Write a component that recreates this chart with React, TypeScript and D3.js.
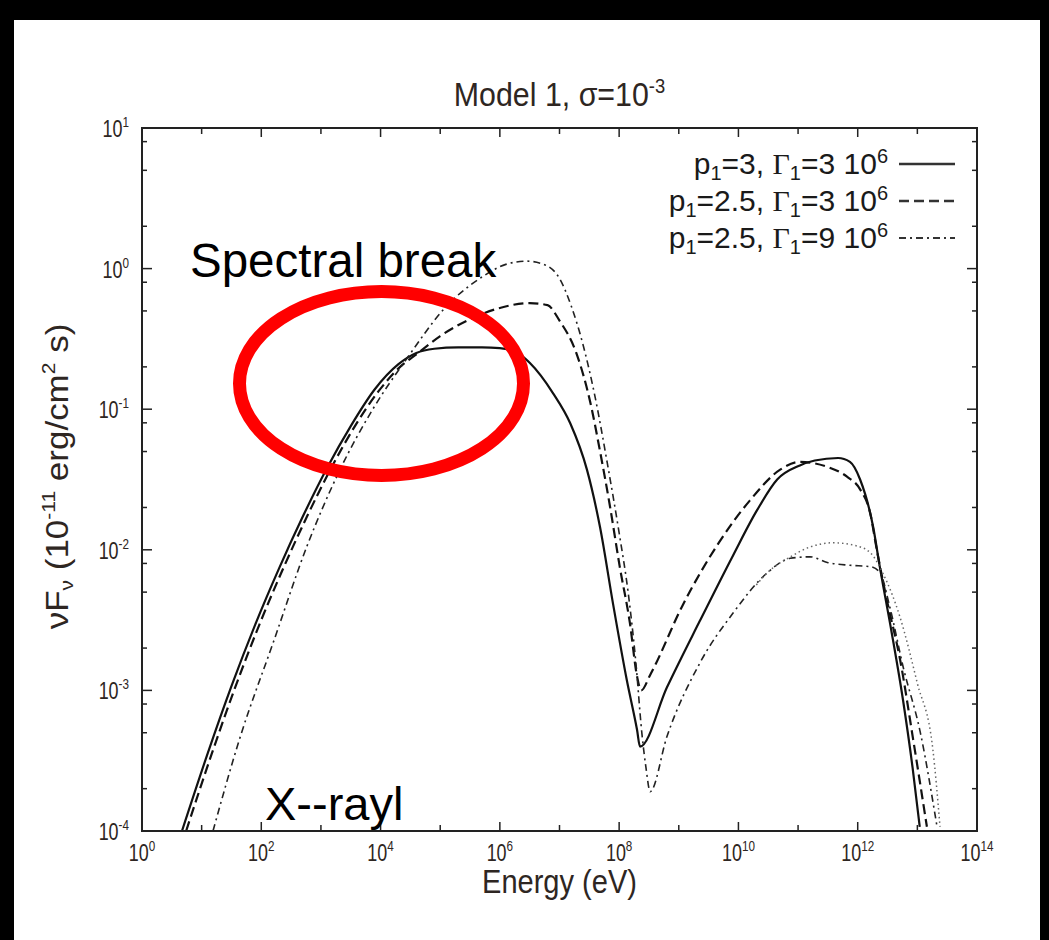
import React from 'react';
import * as d3 from 'd3';

const W = 1049;
const H = 940;
const plot = { left: 142, top: 128, right: 977, bottom: 831 };

// Spectra as [log10(E / eV), log10(νFν / 1e-11 erg cm^-2 s^-1)]
const solidSpectrum: [number, number][] = [
  [0.67, -4.0], [1.1, -3.45], [1.5, -2.97], [1.9, -2.53], [2.3, -2.13], [2.7, -1.76],
  [3.1, -1.42], [3.5, -1.12], [3.9, -0.86], [4.3, -0.68], [4.6, -0.6], [4.9, -0.57],
  [5.3, -0.56], [5.7, -0.56], [6.0, -0.565], [6.3, -0.6], [6.5, -0.67],
  [6.89, -0.885], [7.18, -1.1], [7.46, -1.43], [7.68, -1.84], [7.9, -2.39], [8.13, -2.93],
  [8.3, -3.28], [8.35, -3.4], [8.8, -2.98], [9.36, -2.5], [9.91, -2.04], [10.31, -1.72],
  [10.65, -1.5], [11.03, -1.4], [11.28, -1.365], [11.67, -1.347], [11.87, -1.375],
  [12.04, -1.5], [12.26, -1.84], [12.37, -2.12], [12.57, -2.59], [12.76, -3.07],
  [12.92, -3.55], [13.04, -3.97],
];

const dashedSpectrum: [number, number][] = [
  [0.74, -4.0], [1.17, -3.45], [1.57, -2.97], [1.97, -2.53], [2.37, -2.13], [2.77, -1.76],
  [3.17, -1.42], [3.57, -1.12], [3.97, -0.87], [4.35, -0.69], [4.6, -0.61],
  [5.0, -0.48], [5.5, -0.36], [6.0, -0.28], [6.5, -0.245], [6.8, -0.26], [7.0, -0.37],
  [7.29, -0.61], [7.51, -0.94], [7.68, -1.3], [7.85, -1.7], [8.01, -2.12], [8.18, -2.52],
  [8.3, -2.9], [8.37, -3.0], [8.52, -2.89], [9.07, -2.39], [9.64, -1.97], [10.19, -1.65],
  [10.7, -1.43], [11.03, -1.375], [11.49, -1.41], [11.82, -1.48], [12.04, -1.57],
  [12.21, -1.74], [12.32, -2.0], [12.49, -2.36], [12.71, -2.78], [12.93, -3.35], [13.16, -3.97],
];

const dashDotSpectrum: [number, number][] = [
  [1.19, -4.0], [1.64, -3.34], [2.2, -2.66], [2.77, -1.97], [3.32, -1.43],
  [3.87, -1.0], [4.44, -0.64], [5.1, -0.27], [5.7, -0.06], [6.1, 0.03],
  [6.45, 0.053], [6.76, 0.026], [7.0, -0.07], [7.2, -0.27], [7.4, -0.55], [7.6, -0.92],
  [7.8, -1.38], [8.0, -1.88], [8.15, -2.3], [8.28, -2.8], [8.38, -3.3], [8.45, -3.55],
  [8.52, -3.72], [8.8, -3.33], [9.36, -2.8], [9.91, -2.45], [10.48, -2.165], [10.87, -2.06],
  [11.2, -2.05], [11.49, -2.09], [11.87, -2.11], [12.21, -2.12], [12.37, -2.16],
  [12.54, -2.41], [12.76, -2.83], [13.05, -3.3], [13.33, -3.97],
];

const dottedSpectrum: [number, number][] = [
  [10.3, -2.25], [10.48, -2.165], [10.87, -2.05], [11.2, -1.98], [11.59, -1.95], [11.96, -1.97],
  [12.21, -2.02], [12.42, -2.165], [12.71, -2.48], [13.0, -2.95], [13.26, -3.42], [13.38, -3.97],
];

const xTickExponents = d3.range(0, 15);
const yTickExponents = d3.range(-4, 2);
const yMinorMantissas = [2, 5, 8];

const legendP = ['3', '2.5', '2.5'];
const legendGamma = ['3', '3', '9'];
const legendDash = ['none', '10,5', '7,4,2,4'];

const textColor = '#2e2622';
const font = '"Liberation Sans", Arial, sans-serif';

export default function App() {
  const x = d3.scaleLog().domain([1, 1e14]).range([plot.left, plot.right]);
  const y = d3.scaleLog().domain([1e-4, 10]).range([plot.bottom, plot.top]);

  const line = d3
    .line<[number, number]>()
    .x((d) => x(Math.pow(10, d[0])))
    .y((d) => y(Math.pow(10, d[1])))
    .curve(d3.curveMonotoneX);

  const minorY: number[] = [];
  yTickExponents.slice(0, -1).forEach((e) => {
    yMinorMantissas.forEach((m) => minorY.push(m * Math.pow(10, e)));
  });

  const series = [
    { data: solidSpectrum, dash: 'none', width: 2.2, color: '#111' },
    { data: dashedSpectrum, dash: '10,5', width: 2.2, color: '#111' },
    { data: dashDotSpectrum, dash: '7,4,2,4', width: 1.6, color: '#222' },
    { data: dottedSpectrum, dash: '1.5,3', width: 1.5, color: '#666' },
  ];

  return (
    <svg
      width={W}
      height={H}
      style={{ position: 'absolute', left: 0, top: 0, background: '#fff' }}
      fontFamily={font}
    >
      <rect x={0} y={0} width={W} height={H} fill="#fff" />

      {/* Title */}
      <g transform={`translate(${(plot.left + plot.right) / 2},106) scale(0.92,1)`}>
        <text textAnchor="middle" fontSize={33} fill={textColor}>
          Model 1, σ=10<tspan fontSize={20} dy={-13}>-3</tspan>
        </text>
      </g>

      <defs>
        <clipPath id="plotClip">
          <rect x={plot.left} y={plot.top} width={plot.right - plot.left} height={plot.bottom - plot.top} />
        </clipPath>
      </defs>

      {/* Curves */}
      <g clipPath="url(#plotClip)" fill="none">
        {series.map((s, i) => (
          <path
            key={i}
            d={line(s.data) || ''}
            stroke={s.color}
            strokeWidth={s.width}
            strokeDasharray={s.dash}
            strokeLinejoin="round"
          />
        ))}
      </g>

      {/* X ticks, bottom and top */}
      {xTickExponents.map((e) => {
        const px = x(Math.pow(10, e));
        const len = e % 2 === 0 ? 9 : 6;
        return (
          <g key={`xt${e}`} stroke="#222" strokeWidth={1.5}>
            <line x1={px} x2={px} y1={plot.bottom} y2={plot.bottom - len} />
            <line x1={px} x2={px} y1={plot.top} y2={plot.top + len} />
          </g>
        );
      })}
      {xTickExponents
        .filter((e) => e % 2 === 0)
        .map((e) => (
          <g key={`xl${e}`} transform={`translate(${x(Math.pow(10, e))},861) scale(0.78,1)`}>
            <text textAnchor="middle" fontSize={23} fill={textColor}>
              10<tspan fontSize={15} dy={-10}>{e}</tspan>
            </text>
          </g>
        ))}

      {/* Y ticks, left and right */}
      {yTickExponents.map((e) => {
        const py = y(Math.pow(10, e));
        return (
          <g key={`yt${e}`} stroke="#222" strokeWidth={1.5}>
            <line x1={plot.left} x2={plot.left + 10} y1={py} y2={py} />
            <line x1={plot.right} x2={plot.right - 10} y1={py} y2={py} />
          </g>
        );
      })}
      {minorY.map((v, i) => {
        const py = y(v);
        return (
          <g key={`ym${i}`} stroke="#222" strokeWidth={1.5}>
            <line x1={plot.left} x2={plot.left + 5} y1={py} y2={py} />
            <line x1={plot.right} x2={plot.right - 5} y1={py} y2={py} />
          </g>
        );
      })}
      {yTickExponents.map((e) => (
        <g key={`yl${e}`} transform={`translate(129,${y(Math.pow(10, e)) + 9}) scale(0.78,1)`}>
          <text textAnchor="end" fontSize={23} fill={textColor}>
            10<tspan fontSize={15} dy={-10}>{e}</tspan>
          </text>
        </g>
      ))}

      {/* Frame */}
      <rect
        x={plot.left}
        y={plot.top}
        width={plot.right - plot.left}
        height={plot.bottom - plot.top}
        fill="none"
        stroke="#222"
        strokeWidth={2}
      />

      {/* Axis titles */}
      <g transform={`translate(${(plot.left + plot.right) / 2},893) scale(0.88,1)`}>
        <text textAnchor="middle" fontSize={33} fill={textColor}>
          Energy (eV)
        </text>
      </g>
      <g transform={`translate(68,${(plot.top + plot.bottom) / 2 - 3}) scale(0.9,1) rotate(-90)`}>
        <text textAnchor="middle" fontSize={35} fill={textColor}>
          νF<tspan fontSize={21} dy={6}>ν</tspan>
          <tspan dy={-6}> (10</tspan>
          <tspan fontSize={21} dy={-14}>-11</tspan>
          <tspan dy={14}> erg/cm</tspan>
          <tspan fontSize={21} dy={-14}>2</tspan>
          <tspan dy={14}> s)</tspan>
        </text>
      </g>

      {/* Legend */}
      {legendP.map((p, i) => {
        const cy = 164 + i * 37;
        return (
          <g key={`lg${i}`}>
            <text x={888} y={cy + 10} textAnchor="end" fontSize={30} fill="#1a1a1a">
              p<tspan fontSize={20} dy={6}>1</tspan>
              <tspan dy={-6}>={p}, </tspan>
              <tspan fontFamily='"Liberation Serif", serif'>Γ</tspan>
              <tspan fontSize={20} dy={6}>1</tspan>
              <tspan dy={-6}>={legendGamma[i]} 10</tspan>
              <tspan fontSize={20} dy={-11}>6</tspan>
            </text>
            <line
              x1={899}
              x2={955}
              y1={cy}
              y2={cy}
              stroke="#333"
              strokeWidth={i === 2 ? 2 : 2.6}
              strokeDasharray={legendDash[i]}
            />
          </g>
        );
      })}

      {/* Annotations */}
      <text x={190} y={277} fontSize={47.5} fill="#000">
        Spectral break
      </text>
      <text x={265} y={820} fontSize={47} fill="#000">
        X--rayl
      </text>
      <ellipse cx={381.5} cy={383.5} rx={142} ry={92} fill="none" stroke="#ff0000" strokeWidth={13} />

      {/* Outer black border */}
      <rect x={0} y={0} width={W} height={20} fill="#000" />
      <rect x={0} y={0} width={14} height={H} fill="#000" />
      <rect x={1040} y={0} width={W - 1040} height={H} fill="#000" />
    </svg>
  );
}
